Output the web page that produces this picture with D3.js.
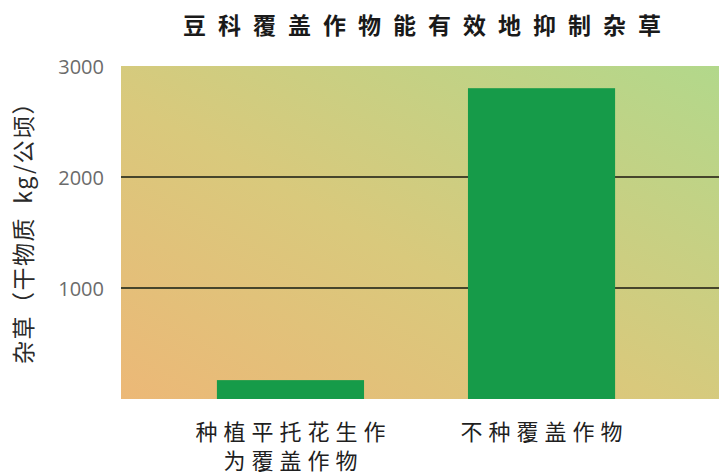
<!DOCTYPE html>
<html>
<head>
<meta charset="utf-8">
<script src="https://cdn.jsdelivr.net/npm/d3@7"></script>
<style>
  html, body { margin: 0; padding: 0; background: #ffffff; }
  svg { display: block; }
</style>
</head>
<body>
<svg id="chart" width="719" height="476"></svg>
<script>
// Weed dry matter (kg/ha) with and without a legume cover crop
const categories = [["种植平托花生作", "为覆盖作物"], ["不种覆盖作物"]];
const values = [170, 2800];
const tickValues = [1000, 2000, 3000];
const tickLabels = ["1000", "2000", "3000"];

const W = 719, H = 476;
const plot = { left: 121, right: 719, top: 66, bottom: 399 };

const svg = d3.select("#chart");
const cjk = "'Noto Sans CJK SC', 'Noto Sans', sans-serif";

const x = d3.scaleBand()
  .domain(d3.range(values.length))
  .range([plot.left, 711])
  .paddingInner(0.414)
  .paddingOuter(0.382);

const y = d3.scaleLinear()
  .domain([0, 3000])
  .range([plot.bottom, plot.top]);

// Background gradient of the plot area
const defs = svg.append("defs");
const grad = defs.append("linearGradient")
  .attr("id", "bg")
  .attr("x1", "0").attr("y1", "1")
  .attr("x2", "1").attr("y2", "0");
grad.append("stop").attr("offset", "0").attr("stop-color", "#ecb877");
grad.append("stop").attr("offset", "0.45").attr("stop-color", "#d9c97c");
grad.append("stop").attr("offset", "1").attr("stop-color", "#b2d88b");

svg.append("rect")
  .attr("x", plot.left)
  .attr("y", y(3000))
  .attr("width", plot.right - plot.left)
  .attr("height", y(0) - y(3000))
  .attr("fill", "url(#bg)");

// Horizontal grid lines
svg.append("g")
  .selectAll("line")
  .data(tickValues.filter(v => v < 3000))
  .join("line")
  .attr("x1", plot.left)
  .attr("x2", plot.right)
  .attr("y1", d => y(d))
  .attr("y2", d => y(d))
  .attr("stroke", "#46452c")
  .attr("stroke-width", 2);

// Bars
svg.append("g")
  .selectAll("rect")
  .data(values)
  .join("rect")
  .attr("x", (d, i) => x(i))
  .attr("width", x.bandwidth())
  .attr("y", d => y(d))
  .attr("height", d => y(0) - y(d))
  .attr("fill", "#169b49");

// Y tick labels
const yAxis = d3.axisLeft(y)
  .tickValues(tickValues)
  .tickFormat((d, i) => tickLabels[i])
  .tickSize(0)
  .tickPadding(0);
const yg = svg.append("g")
  .attr("transform", `translate(${104},0)`)
  .call(yAxis);
yg.select(".domain").remove();
yg.selectAll("text")
  .attr("font-family", "'Open Sans', 'Noto Sans', sans-serif")
  .attr("font-size", 20)
  .attr("fill", "#6b6b6b")
  .attr("dy", "0.35em");

// Category labels
const catG = svg.append("g");
categories.forEach((lines, i) => {
  const cx = x(i) + x.bandwidth() / 2;
  lines.forEach((line, j) => {
    catG.append("text")
      .attr("x", cx + 3)
      .attr("y", 440 + j * 29)
      .attr("text-anchor", "middle")
      .attr("font-family", cjk)
      .attr("font-size", 22)
      .attr("letter-spacing", "6px")
      .attr("fill", "#1f1f1f")
      .text(line);
  });
});

// Title
svg.append("text")
  .attr("x", 428)
  .attr("y", 34)
  .attr("text-anchor", "middle")
  .attr("font-family", cjk)
  .attr("font-weight", 600)
  .attr("font-size", 23)
  .attr("letter-spacing", "12px")
  .attr("fill", "#1a1a1a")
  .text("豆科覆盖作物能有效地抑制杂草");

// Y axis title
svg.append("text")
  .attr("transform", `translate(32,227) rotate(-90)`)
  .attr("text-anchor", "middle")
  .attr("font-family", cjk)
  .attr("font-size", 23)
  .attr("letter-spacing", "1.5px")
  .attr("fill", "#2a2a2a")
  .attr("xml:space", "preserve")
  .style("white-space", "pre")
  .text("杂草（干物质  kg/公顷）");
</script>
</body>
</html>
